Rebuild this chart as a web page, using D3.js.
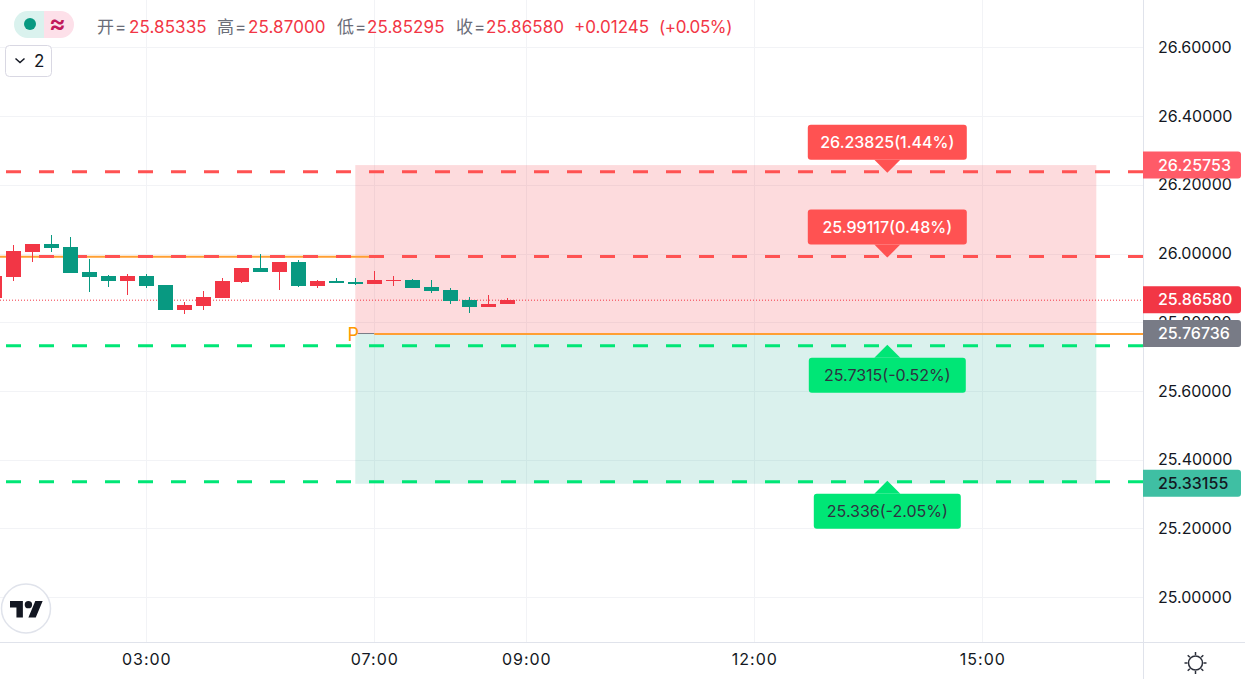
<!DOCTYPE html>
<html><head><meta charset="utf-8">
<script src="https://cdn.jsdelivr.net/npm/d3@7"></script>
<style>
html,body{margin:0;padding:0;background:#fff;overflow:hidden}
svg{display:block}
text{font-family:Inter,"Noto Sans CJK SC",sans-serif}
</style></head><body>
<svg id="c" width="1245" height="679"></svg>
<script>
// bar index -1..26 : each bar is 15 minutes
const barIndex=[-1,0,1,2,3,4,5,6,7,8,9,10,11,12,13,14,15,16,17,18,19,20,21,22,23,24,25,26];
const opens =[25.8707,25.9318,26.0045,26.0278,26.0191,25.9463,25.9347,25.9201,25.9347,25.9085,25.8357,25.8474,25.8707,25.9172,25.9580,25.9463,25.9754,25.9056,25.9201,25.9172,25.9114,25.9201,25.9230,25.9027,25.8939,25.8648,25.8445,25.85335];
const highs =[25.9347,26.0249,26.0278,26.0540,26.0482,25.9842,25.9376,25.9405,25.9405,25.9085,25.8590,25.8910,25.9289,25.9580,25.9987,25.9754,25.9813,25.9230,25.9289,25.9289,25.9492,25.9347,25.9260,25.9230,25.8998,25.8736,25.8794,25.87000];
const lows  =[25.8707,25.9201,25.9754,26.0045,25.9434,25.8881,25.9027,25.8794,25.8998,25.8357,25.8241,25.8357,25.8707,25.9143,25.9463,25.8939,25.9027,25.8998,25.9143,25.9085,25.9114,25.9056,25.8998,25.8852,25.8532,25.8270,25.8445,25.85295];
const closes=[25.9347,26.0074,26.0278,26.0162,25.9434,25.9318,25.9201,25.9347,25.9056,25.8357,25.8503,25.8736,25.9201,25.9580,25.9463,25.9754,25.9056,25.9201,25.9143,25.9114,25.9230,25.9230,25.8998,25.8910,25.8619,25.8445,25.8532,25.86580];
const priceTicks=[26.6,26.4,26.2,26.0,25.8,25.6,25.4,25.2,25.0];
const timeTickIndex=[7,19,27,39,51];
const timeTickLabels=["03:00","07:00","09:00","12:00","15:00"];
const lastClose=25.8658, entry=25.76736, pivotBefore=25.9905;
const pivotChangeIndex=19, zoneStartIndex=18, zoneEndIndex=57, labelIndex=46;
const zoneTop=26.25753, zoneBottom=25.33155;
const targets=[
 {v:26.23825,t:"26.23825(1.44%)",side:"up",w:159},
 {v:25.99117,t:"25.99117(0.48%)",side:"up",w:159},
 {v:25.7315,t:"25.7315(-0.52%)",side:"down",w:157},
 {v:25.336,t:"25.336(-2.05%)",side:"down",w:147}];
const tags=[
 {v:26.25753,fill:"#ff5b68",txt:"#fff"},
 {v:25.8658,fill:"#f23645",txt:"#fff"},
 {v:25.76736,fill:"#787b86",txt:"#fff"},
 {v:25.33155,fill:"#3fbfa3",txt:"#131722"}];
const headerParts=[
 ["开=",97,"#6a6d78",.9],["25.85335",129,"#f23645",.1],
 ["高=",217,"#6a6d78",.9],["25.87000",248,"#f23645",.1],
 ["低=",337,"#6a6d78",.9],["25.85295",367,"#f23645",.1],
 ["收=",456,"#6a6d78",.9],["25.86580",486,"#f23645",.1],
 ["+0.01245",574,"#f23645",0],["(+0.05%)",659,"#f23645",-.4]];

const W=1245,H=679,plotR=1143,plotB=642;
const UP="#f23645",DOWN="#089981",RED="#ff5252",GREEN="#00e676",ORANGE="#ff9f33";
const svg=d3.select("#c");
const y=d3.scaleLinear().domain([25,26.6]).range([597.2,47.4]);
const x=d3.scaleLinear().domain([0,51]).range([13.3,982.3]);

// grid
const g=svg.append("g");
g.selectAll("line.h").data(priceTicks).join("line").attr("x1",0).attr("x2",plotR)
 .attr("y1",d=>Math.round(y(d))+.5).attr("y2",d=>Math.round(y(d))+.5).attr("stroke","#f2f3f6");
g.selectAll("line.v").data(timeTickIndex).join("line").attr("y1",0).attr("y2",plotB)
 .attr("x1",d=>Math.round(x(d))+.5).attr("x2",d=>Math.round(x(d))+.5).attr("stroke","#f2f3f6");

// zones
svg.append("rect").attr("x",x(zoneStartIndex)).attr("width",x(zoneEndIndex)-x(zoneStartIndex))
 .attr("y",y(zoneTop)).attr("height",y(entry)-y(zoneTop)).attr("fill","#f23645").attr("fill-opacity",.18);
svg.append("rect").attr("x",x(zoneStartIndex)).attr("width",x(zoneEndIndex)-x(zoneStartIndex))
 .attr("y",y(entry)).attr("height",y(zoneBottom)-y(entry)+.5).attr("fill","#22ab94").attr("fill-opacity",.17);

// pivot lines
svg.append("line").attr("x1",0).attr("x2",x(pivotChangeIndex)-2).attr("y1",y(pivotBefore)).attr("y2",y(pivotBefore))
 .attr("stroke",ORANGE).attr("stroke-width",2);
svg.append("line").attr("x1",x(zoneStartIndex)+2).attr("x2",x(pivotChangeIndex)).attr("y1",y(entry)).attr("y2",y(entry))
 .attr("stroke","#787b86").attr("stroke-width",1);
svg.append("line").attr("x1",x(pivotChangeIndex)).attr("x2",plotR).attr("y1",y(entry)+.6).attr("y2",y(entry)+.6)
 .attr("stroke",ORANGE).attr("stroke-width",2);
svg.append("text").attr("x",347.5).attr("y",y(entry)+7.5).attr("fill","#ff9800").attr("font-size",18).text("P");

// dashed target lines
svg.selectAll("line.t").data(targets).join("line").attr("x1",6).attr("x2",plotR)
 .attr("y1",d=>y(d.v)).attr("y2",d=>y(d.v)).attr("stroke",d=>d.side==="up"?RED:GREEN)
 .attr("stroke-width",3).attr("stroke-dasharray","15 18");

// last price dotted
svg.append("line").attr("x1",0).attr("x2",plotR).attr("y1",y(lastClose)+.5).attr("y2",y(lastClose)+.5)
 .attr("stroke",UP).attr("stroke-dasharray","1 2");

// candles
const cw=15;
const candle=svg.append("g").selectAll("g").data(barIndex).join("g")
 .attr("fill",(d,i)=>closes[i]>=opens[i]?UP:DOWN);
candle.append("rect").attr("x",d=>Math.round(x(d))-.5).attr("width",1).attr("shape-rendering","crispEdges")
 .attr("y",(d,i)=>y(highs[i])).attr("height",(d,i)=>y(lows[i])-y(highs[i]));
candle.append("rect").attr("x",d=>Math.round(x(d))-7.5).attr("width",cw).attr("shape-rendering","crispEdges")
 .attr("y",(d,i)=>y(Math.max(opens[i],closes[i])))
 .attr("height",(d,i)=>Math.max(1,Math.abs(y(opens[i])-y(closes[i]))));

// target labels
const lx=x(labelIndex);
const lab=svg.append("g").selectAll("g").data(targets).join("g");
lab.each(function(d){
 const s=d3.select(this),py=y(d.v),up=d.side==="up",col=up?RED:GREEN;
 const baseY=up?py-12:py+12, h=35;
 const top=up?baseY-h:baseY;
 s.append("rect").attr("x",lx-d.w/2).attr("width",d.w).attr("y",top).attr("height",h).attr("rx",3).attr("fill",col);
 s.append("path").attr("d",`M${lx-13},${baseY}L${lx},${py+(up?1:-1)}L${lx+13},${baseY}Z`).attr("fill",col);
 s.append("text").attr("x",lx).attr("y",top+h/2).attr("dy","0.36em").attr("text-anchor","middle")
  .attr("font-size",16).attr("fill",up?"#fff":"#2f3241").attr("font-weight",up?500:400).text(d.t);
});

// axes lines
svg.append("line").attr("x1",plotR+.5).attr("x2",plotR+.5).attr("y1",0).attr("y2",H).attr("stroke","#e0e3eb");
svg.append("line").attr("x1",0).attr("x2",W).attr("y1",plotB+.5).attr("y2",plotB+.5).attr("stroke","#e0e3eb");

// price axis
const ay=svg.append("g").attr("transform",`translate(${plotR},0)`)
 .call(d3.axisRight(y).tickValues(priceTicks).tickFormat(d3.format(".5f")).tickSize(0).tickPadding(15));
ay.select(".domain").remove();
ay.selectAll("text").attr("font-size",16).attr("fill","#131722").attr("font-family",'Inter,sans-serif');

// time axis
const ax=svg.append("g").attr("transform",`translate(0,${plotB})`)
 .call(d3.axisBottom(x).tickValues(timeTickIndex).tickFormat((d,i)=>timeTickLabels[i]).tickSize(0).tickPadding(12));
ax.select(".domain").remove();
ax.selectAll("text").attr("font-size",16).attr("letter-spacing",1).attr("fill","#131722").attr("font-family",'Inter,sans-serif');

// price tags
const tg=svg.append("g").selectAll("g").data(tags).join("g");
tg.append("path").attr("d",d=>{const t=y(d.v)-13.5,b=t+27;return `M${plotR},${t}H1238a3,3 0 0 1 3,3V${b-3}a3,3 0 0 1 -3,3H${plotR}Z`}).attr("fill",d=>d.fill);
tg.append("text").attr("x",1158).attr("y",d=>y(d.v)).attr("dy","0.36em").attr("font-size",16).attr("font-weight",500)
 .attr("fill",d=>d.txt).text(d=>d3.format(".5f")(d.v));

// header
svg.append("g").selectAll("text").data(headerParts).join("text").attr("x",d=>d[1]).attr("y",32.5)
 .attr("font-size",17).attr("letter-spacing",d=>d[3]).attr("fill",d=>d[2]).text(d=>d[0]);

// status pill
svg.append("path").attr("d","M44,11H27.5a13.5,13.5 0 0 0 0,27H44Z").attr("fill","#daf2ee");
svg.append("path").attr("d","M44,11H60.5a13.5,13.5 0 0 1 0,27H44Z").attr("fill","#fde0e9");
svg.append("circle").attr("cx",30).attr("cy",24).attr("r",6).attr("fill","#089981");
svg.append("text").attr("x",57.5).attr("y",32).attr("text-anchor","middle").attr("font-size",25).attr("font-weight",600).attr("fill","#c2185b").text("≈");

// collapse button
svg.append("rect").attr("x",5.5).attr("y",45.5).attr("width",46).attr("height",31).attr("rx",4).attr("fill","#fff").attr("stroke","#d9d8e3");
svg.append("path").attr("d","M15.5,58.5l4.5,4l4.5,-4").attr("fill","none").attr("stroke","#131722").attr("stroke-width",1.5);
svg.append("text").attr("x",34).attr("y",67).attr("font-size",17).attr("fill","#131722").text("2");

// logo
svg.append("circle").attr("cx",26).attr("cy",608.5).attr("r",24.5).attr("fill","#fff").attr("stroke","#e0e3eb").attr("stroke-width",1.5);
const lg=svg.append("g").attr("transform","translate(10,597.3) scale(.92)").attr("fill","#131722");
lg.append("path").attr("d","M14 22H7V11H0V4h14v18zM28 22h-8l7.5-18h8L28 22z");
lg.append("circle").attr("cx",20).attr("cy",8).attr("r",4);

// settings sun
const sun=svg.append("g").attr("transform","translate(1195.5,663)").attr("stroke","#2a2e39");
sun.append("circle").attr("r",7).attr("fill","none").attr("stroke-width",1.5);
sun.selectAll("line").data(d3.range(8)).join("line").attr("y1",-8).attr("y2",-11).attr("stroke-width",1.5)
 .attr("transform",d=>`rotate(${d*45})`);
</script>
</body></html>
